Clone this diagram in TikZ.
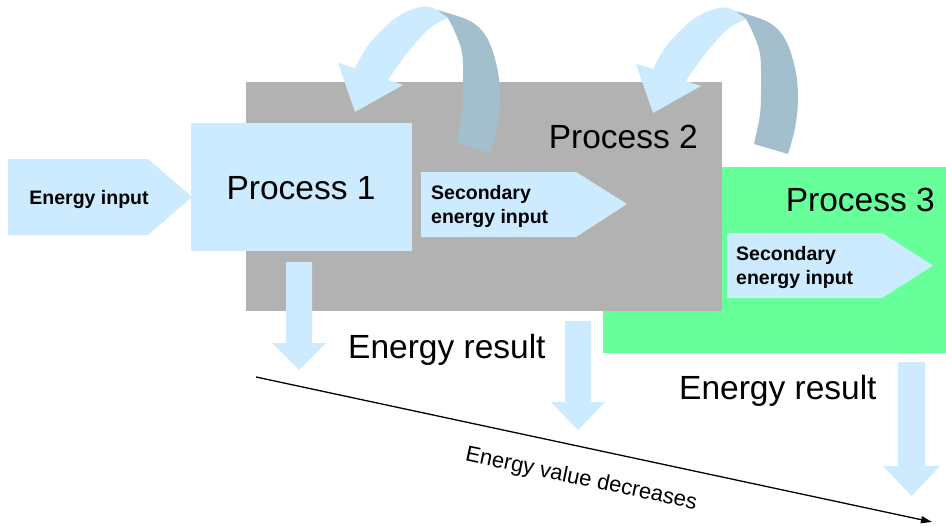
\documentclass[tikz,border=0pt]{standalone}
\usepackage{fontspec}
\setmainfont{Liberation Sans}
\usetikzlibrary{arrows.meta}
\definecolor{lb}{RGB}{204,235,255}
\definecolor{dk}{RGB}{163,190,204}
\definecolor{gr}{RGB}{178,178,178}
\definecolor{gn}{RGB}{102,255,153}
\begin{document}
\begin{tikzpicture}[x=1pt,y=-1pt,
  box/.style={draw=none,inner sep=0pt,outer sep=0pt,anchor=north west},
  big/.style={font=\fontsize{33.5}{38}\selectfont,inner sep=0pt,anchor=base},
  small/.style={font=\bfseries\fontsize{19.5}{23}\selectfont,inner sep=0pt,anchor=base west},
  lbfill/.style={fill=lb,draw=none},
  dkfill/.style={fill=dk,draw=none}]
\fill[white] (0,0) rectangle (946,527);
\useasboundingbox (0,0) rectangle (946,527);
% boxes
\node[box,fill=gn,minimum width=343pt,minimum height=186pt] (p3) at (603,167) {};
\node[box,fill=gr,minimum width=476pt,minimum height=229pt] (p2) at (246,82) {};
\node[box,fill=lb,minimum width=221pt,minimum height=128pt] (p1) at (191,123) {};
% input arrows
\path[lbfill] (8,159) -- (148,159) -- (192,197) -- (148,235) -- (8,235) -- cycle;
\path[lbfill] (421,172) -- (576,172) -- (627,204) -- (576,237) -- (421,237) -- cycle;
\path[lbfill] (727,233) -- (882,233) -- (933,265.5) -- (882,298) -- (727,298) -- cycle;
% down arrows
\path[lbfill] (286,262) -- (312,262) -- (312,343) -- (326,343) -- (299,370) -- (272,343) -- (286,343) -- cycle;
\path[lbfill] (565,321) -- (591,321) -- (591,402) -- (605,402) -- (578,430) -- (551,402) -- (565,402) -- cycle;
\path[lbfill] (898,362) -- (925,362) -- (925,466) -- (940,466) -- (911.5,496) -- (883,466) -- (898,466) -- cycle;
% curved arrows
\foreach \sx/\sy in {0/0, 298/1} {
\begin{scope}[shift={(\sx,\sy)}]
\path[dkfill] plot[smooth,tension=0.6] coordinates {(437,10) (470,21) (487,38) (497,67) (500,97) (497,127) (490,153)}
  -- (456,143) -- plot[smooth,tension=0.6] coordinates {(456,143) (462,113) (463,83) (462,53) (455,32) (448,18)} -- cycle;
\path[lbfill] plot[smooth,tension=0.6] coordinates {(437,10) (423,6.5) (397,17) (370,43) (355,68)}
  -- (338,63) -- (355,112) -- (403,85) -- (388,80)
  -- plot[smooth,tension=0.6] coordinates {(388,80) (407,53) (430,28) (448,18)} -- cycle;
\end{scope}
}
% texts
\node[big] (t1) at (301,199) {Process 1};
\node[big,anchor=base east] (t2) at (698,148) {Process 2};
\node[big,anchor=base east] (t3) at (935,211) {Process 3};
\node[big,anchor=base west] (r1) at (348,358) {Energy result};
\node[big,anchor=base west] (r2) at (679,399) {Energy result};
\node[small,anchor=base] (ei) at (89,204) {Energy input};
\node[small] (s1a) at (431,199) {Secondary};
\node[small] (s1b) at (431,223) {energy input};
\node[small] (s2a) at (736,260) {Secondary};
\node[small] (s2b) at (736,284) {energy input};
% value line
\coordinate (vs) at (256,377);
\coordinate (ve) at (932,522);
\draw[line width=1.3pt,-{Triangle[length=11pt,width=7pt]}] (vs) -- (ve);
\node[font=\fontsize{22}{26}\selectfont,rotate=-12,anchor=base,inner sep=0pt] (ev) at (580,485) {Energy value decreases};
\end{tikzpicture}
\end{document}
